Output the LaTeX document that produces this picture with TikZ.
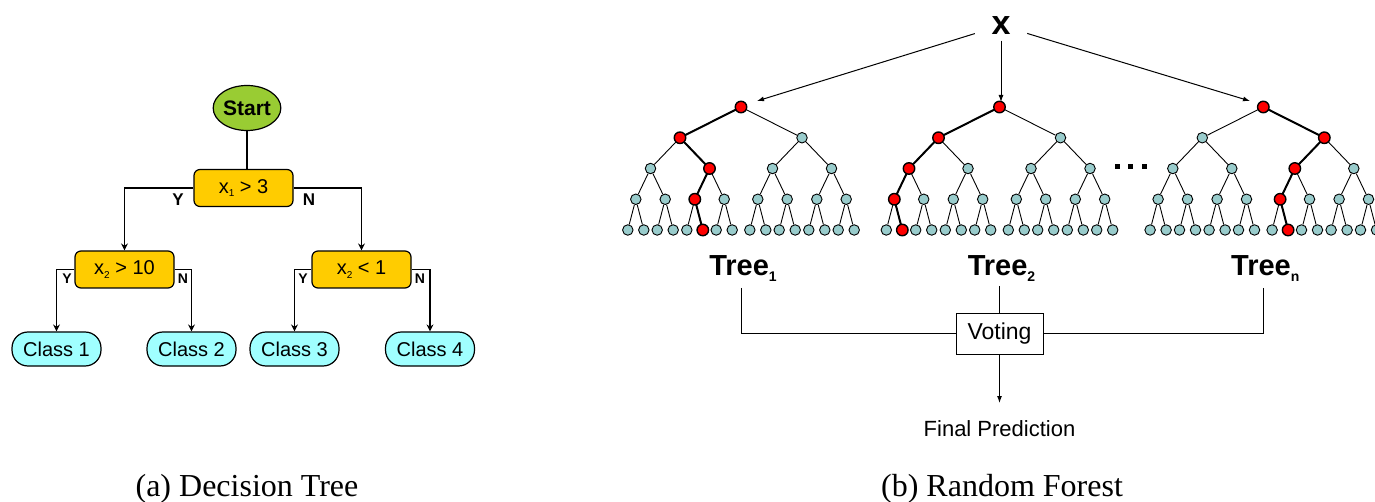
\documentclass[tikz,border=0pt]{standalone}
\usepackage{fontspec}
\setmainfont{Liberation Sans}
\newfontfamily\capfont{Liberation Serif}
\usetikzlibrary{arrows.meta,shapes.geometric,calc}
\definecolor{startgreen}{HTML}{99CC33}
\definecolor{decgold}{HTML}{FFCC00}
\definecolor{classcyan}{HTML}{A0FFFF}
\definecolor{leafteal}{HTML}{99CCCC}
\newcommand\lowsub[2]{\raisebox{-0.35ex}{\fontsize{#1}{#1}\selectfont #2}}
\tikzset{
  dec/.style={draw, line width=1.2pt, fill=decgold, rounded corners=6pt, minimum width=99pt, minimum height=37pt, inner sep=0pt, font=\fontsize{20}{24}\selectfont},
  cls/.style={draw, line width=1.2pt, fill=classcyan, rounded corners=16pt, minimum width=89pt, minimum height=34pt, inner sep=0pt, font=\fontsize{20}{24}\selectfont},
  startnode/.style={ellipse, draw, line width=1.2pt, fill=startgreen, minimum width=63pt, minimum height=45pt, inner sep=0pt, font=\bfseries\fontsize{21}{24}\selectfont},
  dtline/.style={line width=1.2pt},
  dtarr/.style={line width=1.2pt, -{Stealth[length=7pt,width=7pt]}},
  yn/.style={font=\bfseries\fontsize{17}{20}\selectfont, inner sep=0pt},
  ynsmall/.style={font=\bfseries\fontsize{14}{16}\selectfont, inner sep=0pt},
  tn/.style={circle, draw, line width=0.9pt, fill=leafteal, minimum size=10.5pt, inner sep=0pt},
  rn/.style={circle, draw, line width=1.4pt, fill=red, minimum size=11.5pt, inner sep=0pt},
  te/.style={line width=0.9pt},
  re/.style={line width=2pt},
  fline/.style={line width=1pt},
  farr/.style={line width=1pt, -{Latex[length=7pt,width=5pt]}},
  treelab/.style={font=\bfseries\fontsize{29}{31}\selectfont, inner sep=0pt},
  capt/.style={font=\capfont\fontsize{32}{36}\selectfont, inner sep=0pt}
}
\begin{document}
\begin{tikzpicture}[x=1pt,y=-1pt]
\useasboundingbox (0,0) rectangle (1375,502);

% ---------------- (a) Decision tree ----------------
\node[startnode] (start) at (247,108) {Start};
\node[dec] (q1) at (243.5,188) {x\lowsub{10}{1} > 3};
\node[dec] (q2) at (124.5,269.5) {x\lowsub{10}{2} > 10};
\node[dec] (q3) at (361.5,269.5) {x\lowsub{10}{2} < 1};
\node[cls] (c1) at (56.5,349) {Class 1};
\node[cls] (c2) at (191.5,349) {Class 2};
\node[cls] (c3) at (294.5,349) {Class 3};
\node[cls] (c4) at (430,349) {Class 4};

\draw[dtline] (start.south) -- (start.south |- q1.north);
\draw[dtarr] (q1.west) -| (q2.north);
\draw[dtarr] (q1.east) -| (q3.north);
\draw[dtarr] (q2.west) -| (c1.north);
\draw[dtarr] (q2.east) -| (c2.north);
\draw[dtarr] (q3.west) -| (c3.north);
\draw[dtarr] (q3.east) -| (c4.north);

\node[yn] (y1) at (178,200) {Y};
\node[yn] (n1) at (309,200) {N};
\node[ynsmall] (y2) at (67,279) {Y};
\node[ynsmall] (n2) at (183,279) {N};
\node[ynsmall] (y3) at (303,279) {Y};
\node[ynsmall] (n3) at (420,279) {N};

\node[capt, anchor=base] (capa) at (247,496) {(a) Decision Tree};

% ---------------- (b) Random forest ----------------
\node[font=\bfseries\fontsize{34}{36}\selectfont, minimum width=52pt, minimum height=30pt, inner sep=0pt] (xin) at (1001,25.5) {x};
\coordinate (a1) at (757,101);
\coordinate (a2) at (1001,102);
\coordinate (a3) at (1250,101);
\draw[farr] (xin) -- (a1);
\draw[farr] (xin) -- (a2);
\draw[farr] (xin) -- (a3);

\foreach \tr/\rx in {1/741,2/999.5,3/1263.3}{
  \node[tn] (t\tr-1) at (\rx,107) {};
  \foreach \lv/\off in {1/61,2/29.5,3/14.7,4/8}{
    \pgfmathtruncatemacro\pLo{2^(\lv-1)}
    \pgfmathtruncatemacro\pHi{2^\lv-1}
    \foreach \p in {\pLo,...,\pHi}{
      \pgfmathtruncatemacro\ca{2*\p}
      \pgfmathtruncatemacro\cb{2*\p+1}
      \node[tn] (t\tr-\ca) at ($(t\tr-\p)+(-\off,30.75)$) {};
      \node[tn] (t\tr-\cb) at ($(t\tr-\p)+(\off,30.75)$) {};
      \draw[te] (t\tr-\p) -- (t\tr-\ca);
      \draw[te] (t\tr-\p) -- (t\tr-\cb);
    }
  }
}

\foreach \tr/\ka/\kb/\kc/\kd/\ke in {1/1/2/5/10/21, 2/1/2/4/8/17, 3/1/3/6/12/25}{
  \draw[re] (t\tr-\ka) -- (t\tr-\kb);
  \draw[re] (t\tr-\kb) -- (t\tr-\kc);
  \draw[re] (t\tr-\kc) -- (t\tr-\kd);
  \draw[re] (t\tr-\kd) -- (t\tr-\ke);
  \foreach \k in {\ka,\kb,\kc,\kd,\ke}{
    \node[rn] (r\tr-\k) at (t\tr-\k) {};
  }
}

\foreach \i/\dx in {1/1117.5,2/1130.5,3/1144.5}{
  \node[fill=black, minimum size=5pt, inner sep=0pt] (dot\i) at (\dx,166.5) {};
}

\node[treelab, anchor=base] (tl1) at (743,276) {Tree\lowsub{14}{1}};
\node[treelab, anchor=base] (tl2) at (1001.5,276) {Tree\lowsub{14}{2}};
\node[treelab, anchor=base] (tl3) at (1265.3,276) {Tree\lowsub{14}{n}};

\node[draw, line width=1pt, minimum width=87pt, minimum height=41pt, inner sep=0pt, font=\fontsize{23}{26}\selectfont] (vote) at (999.5,333.7) {Voting};

\draw[fline] (tl2.base -| vote.north) ++(0,10) -- (vote.north);
\draw[fline] (tl1.base -| t1-1) ++(0,12) |- (vote.west);
\draw[fline] (tl3.base -| t3-1) ++(0,12) |- (vote.east);

\coordinate (fpin) at (999.5,403);
\draw[farr] (vote.south) -- (fpin);
\node[font=\fontsize{22}{24}\selectfont, inner sep=0pt] (fp) at (999.5,429) {Final Prediction};

\node[capt, anchor=base] (capb) at (1002,496) {(b) Random Forest};
\end{tikzpicture}
\end{document}
